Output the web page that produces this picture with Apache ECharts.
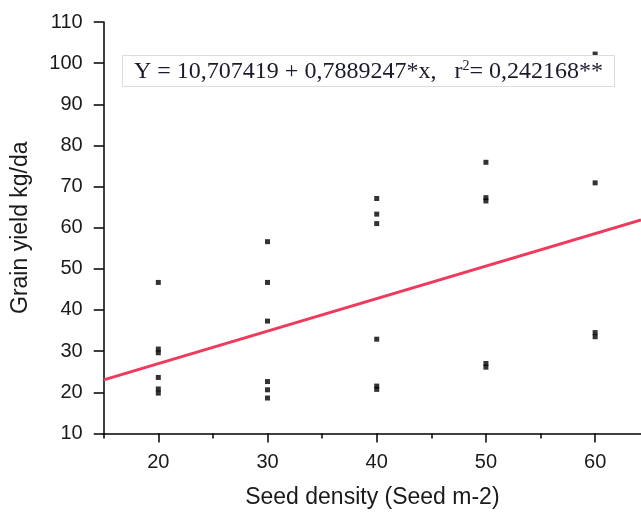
<!DOCTYPE html>
<html>
<head>
<meta charset="utf-8">
<script src="https://cdn.jsdelivr.net/npm/echarts@6/dist/echarts.min.js"></script>
<style>html,body{margin:0;padding:0;background:#fff;}#chart{width:641px;height:517px;}</style>
</head>
<body>
<div id="chart"></div>
<script>
// Data
const seedDensity = [20, 30, 40, 50, 60];
const yield20 = [46.7, 30.5, 29.6, 23.6, 20.8, 19.8];
const yield30 = [56.6, 46.7, 37.3, 22.6, 20.6, 18.6];
const yield40 = [67.1, 63.3, 61.0, 32.9, 21.5, 20.7];
const yield50 = [75.9, 67.3, 66.5, 27.0, 26.1];
const yield60 = [102.2, 70.9, 34.5, 33.5];
const fitX = [15, 64.2];
const fitY = [23.0, 61.9];
const xMajorTicks = [20, 30, 40, 50, 60];
const xMinorTicks = [15, 25, 35, 45, 55];
const yTicks = [10, 20, 30, 40, 50, 60, 70, 80, 90, 100, 110];
const equationText = 'Y = 10,707419 + 0,7889247*x,   r';
const r2Text = '= 0,242168**';

const groups = [yield20, yield30, yield40, yield50, yield60];
const points = [];
groups.forEach((arr, i) => arr.forEach(v => points.push([seedDensity[i], v])));
const fitLine = fitX.map((x, i) => [x, fitY[i]]);

const chart = echarts.init(document.getElementById('chart'), null, {renderer: 'canvas'});
const textColor = '#1a1a1a';
const font = 'Liberation Sans, Arial, sans-serif';
const serif = 'Liberation Serif, Times New Roman, serif';
chart.setOption({
  animation: false,
  backgroundColor: '#fff',
  title: {
    text: '{a|' + equationText + '}{s|2}{a|' + r2Text + '}',
    left: 122, top: 55,
    padding: [4, 12, 3, 12],
    backgroundColor: '#fff',
    borderColor: '#dcdcdc',
    borderWidth: 1,
    z: 10,
    textStyle: {
      fontWeight: 'normal',
      rich: {
        a: {fontFamily: serif, fontSize: 24, fontWeight: 'normal', color: '#1a1a2e', verticalAlign: 'bottom', lineHeight: 25},
        s: {fontFamily: serif, fontSize: 14, fontWeight: 'normal', color: '#1a1a2e', verticalAlign: 'top', lineHeight: 25, padding: [0, 0, 9, 0]}
      }
    }
  },
  grid: {left: 103.7, top: 22, right: 0, bottom: 83.6, containLabel: false},
  xAxis: [{
    type: 'value', min: 15, max: 64.2,
    name: 'Seed density (Seed m-2)', nameLocation: 'middle', nameGap: 53,
    nameTextStyle: {fontFamily: font, fontSize: 23, color: textColor},
    axisLine: {show: true, onZero: false, lineStyle: {color: '#000', width: 1.5}},
    axisTick: {show: true, inside: false, length: 9, customValues: xMajorTicks, lineStyle: {color: '#000', width: 1.5}},
    axisLabel: {customValues: xMajorTicks, margin: 19, fontFamily: font, fontSize: 20, color: textColor},
    splitLine: {show: false}
  }, {
    type: 'value', min: 15, max: 64.2, gridIndex: 0, position: 'bottom',
    axisLine: {show: false},
    axisTick: {show: true, inside: false, length: 5, customValues: xMinorTicks, lineStyle: {color: '#000', width: 1.5}},
    axisLabel: {show: false},
    splitLine: {show: false}
  }],
  yAxis: {
    type: 'value', min: 10, max: 110, interval: 10,
    name: 'Grain yield kg/da', nameLocation: 'middle', nameGap: 72, nameRotate: 90,
    nameTextStyle: {fontFamily: font, fontSize: 23, color: textColor},
    axisLine: {show: true, onZero: false, lineStyle: {color: '#000', width: 1.5}},
    axisTick: {show: true, inside: false, length: 10, lineStyle: {color: '#000', width: 1.5}},
    axisLabel: {margin: 21, fontFamily: font, fontSize: 20, color: textColor,
      formatter: v => yTicks.includes(v) ? String(v) : ''},
    splitLine: {show: false}
  },
  series: [{
    type: 'line', data: fitLine, symbol: 'none', z: 2,
    lineStyle: {color: '#ef3a5d', width: 3}
  }, {
    type: 'scatter', data: points, symbol: 'rect', symbolSize: 5, z: 3,
    itemStyle: {color: '#000'}
  }]
});
</script>
</body>
</html>
